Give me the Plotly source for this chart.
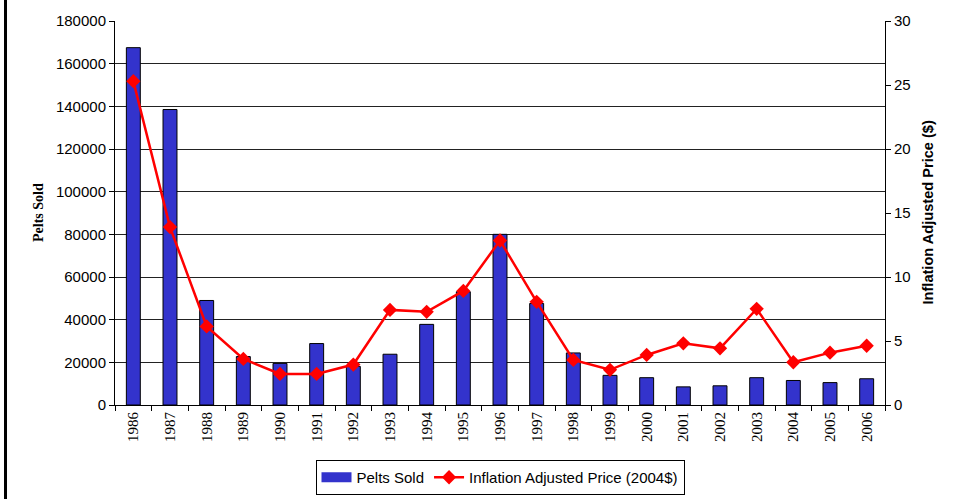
import plotly.graph_objects as go

years = [str(y) for y in range(1986, 2007)]
pelts_sold = [167500, 138500, 49000, 22700, 19500, 28800, 18100, 23800, 37800, 53100,
              80000, 47600, 24400, 13900, 12800, 8500, 9000, 12800, 11500, 10500, 12300]
adj_price = [25.3, 13.9, 6.14, 3.6, 2.43, 2.43, 3.16, 7.43, 7.28, 8.91,
             12.85, 8.06, 3.52, 2.75, 3.91, 4.82, 4.43, 7.51, 3.34, 4.09, 4.63]

left_ticks = list(range(0, 180001, 20000))
right_ticks = list(range(0, 31, 5))

SANS = "Liberation Sans, Arial, sans-serif"
SERIF = "Liberation Serif, Times New Roman, serif"
BAR_COLOR = "#3333CC"

fig = go.Figure()
fig.add_trace(go.Bar(
    x=years, y=pelts_sold, name="Pelts Sold", showlegend=False,
    marker=dict(color=BAR_COLOR, line=dict(color="#000000", width=1)),
    width=0.38, yaxis="y",
))
# legend proxy (wide rectangle swatch like the original legend)
fig.add_trace(go.Scatter(
    x=[None], y=[None], name="Pelts Sold", mode="lines",
    line=dict(color=BAR_COLOR, width=12), yaxis="y", hoverinfo="skip",
))
fig.add_trace(go.Scatter(
    x=years, y=adj_price, name="Inflation Adjusted Price (2004$)",
    mode="lines+markers", yaxis="y2",
    line=dict(color="#FF0000", width=2.5),
    marker=dict(symbol="diamond", size=11, color="#FF0000"),
))

fig.update_layout(
    width=959, height=499,
    margin=dict(l=115, r=74, t=21, b=94, autoexpand=False),
    paper_bgcolor="white", plot_bgcolor="white",
    showlegend=True,
    legend=dict(
        orientation="h", x=0.5, xanchor="center", xref="paper",
        y=1 - 460 / 499, yanchor="top", yref="container",
        bordercolor="#000000", borderwidth=1,
        font=dict(family=SANS, size=15, color="#000000"),
        itemwidth=30, traceorder="normal",
    ),
    xaxis=dict(
        type="category", tickson="boundaries", range=[-0.5, len(years) - 0.5],
        ticks="outside", ticklen=5, tickcolor="#000000",
        showline=True, linecolor="#000000", linewidth=1,
        showgrid=False, tickangle=-90, automargin=False,
        tickfont=dict(family=SERIF, size=15, color="#000000"),
    ),
    yaxis=dict(
        range=[0, 180000], tickvals=left_ticks,
        ticktext=[str(v) for v in left_ticks],
        ticks="outside", ticklen=5, tickcolor="#000000",
        showline=True, linecolor="#000000", linewidth=1,
        showgrid=True, gridcolor="#222222", gridwidth=1,
        zeroline=False, automargin=False,
        tickfont=dict(family=SANS, size=15, color="#000000"),
    ),
    yaxis2=dict(
        range=[0, 30], tickvals=right_ticks, overlaying="y", side="right",
        ticks="outside", ticklen=5, tickcolor="#000000",
        showline=True, linecolor="#000000", linewidth=1,
        showgrid=False, zeroline=False, automargin=False,
        tickfont=dict(family=SANS, size=15, color="#000000"),
    ),
    annotations=[
        dict(text="<b>Pelts Sold</b>", xref="paper", yref="paper",
             x=-0.1,  y=0.5, xanchor="center", yanchor="middle",
             textangle=-90, showarrow=False,
             font=dict(family=SERIF, size=14, color="#000000")),
        dict(text="<b>Inflation Adjusted Price ($)</b>", xref="paper", yref="paper",
             x=1.0552, y=0.5, xanchor="center", yanchor="middle",
             textangle=-90, showarrow=False,
             font=dict(family=SANS, size=14.6, color="#000000")),
    ],
    shapes=[
        dict(type="line", xref="paper", yref="paper",
             x0=-0.1422, x1=-0.1422, y0=-0.3, y1=1.1,
             line=dict(color="#000000", width=3)),
    ],
)

fig.write_html(
    "out.html",
    config={"displayModeBar": False},
    post_script="document.body.style.margin='0';document.body.style.overflow='hidden';",
)
